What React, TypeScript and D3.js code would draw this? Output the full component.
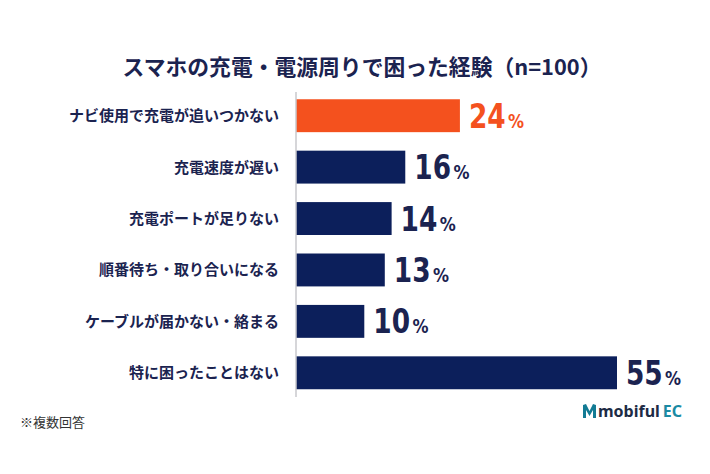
import { useEffect, useRef } from 'react';
import * as d3 from 'd3';

const categories = [
  'ナビ使用で充電が追いつかない',
  '充電速度が遅い',
  '充電ポートが足りない',
  '順番待ち・取り合いになる',
  'ケーブルが届かない・絡まる',
  '特に困ったことはない',
];
const values = [24, 16, 14, 13, 10, 55];
const highlight = [true, false, false, false, false, false];

const title = 'スマホの充電・電源周りで困った経験（n=100）';
const note = '※複数回答';

const ORANGE = '#f4511e';
const NAVY = '#0c1f5b';
const TEXT = '#1b2350';
const NUM_FONT = "'DejaVu Sans', sans-serif";
const JP_FONT = "'Noto Sans CJK JP', 'Noto Sans', sans-serif";

const App = () => {
  const svgRef = useRef<SVGSVGElement>(null);

  useEffect(() => {
    if (!svgRef.current) return;
    d3.select(svgRef.current).selectAll('*').remove();

    const width = 710;
    const height = 474;
    const axisX = 296;

    const svg = d3.select(svgRef.current)
      .attr('width', width)
      .attr('height', height);

    svg.append('rect').attr('width', width).attr('height', height).attr('fill', '#fff');

    // the long bar is cut off at the right edge, as in the original graphic
    const x = d3.scaleLinear().domain([0, 47]).range([axisX, axisX + 321]).clamp(true);
    const y = d3.scaleBand<string>()
      .domain(categories)
      .range([90, 398.5])
      .paddingInner(0.36)
      .paddingOuter(0.18);

    const data = categories.map((c, i) => ({ label: c, value: values[i], hi: highlight[i] }));

    // Title
    svg.append('text')
      .attr('x', 362)
      .attr('y', 75)
      .attr('text-anchor', 'middle')
      .attr('font-family', JP_FONT)
      .attr('font-weight', 700)
      .attr('font-size', 21.8)
      .attr('fill', TEXT)
      .text(title);

    // Bars
    svg.selectAll('.bar')
      .data(data)
      .enter()
      .append('rect')
      .attr('class', 'bar')
      .attr('x', axisX)
      .attr('y', d => y(d.label) || 0)
      .attr('width', d => x(d.value) - axisX)
      .attr('height', y.bandwidth())
      .attr('fill', d => (d.hi ? ORANGE : NAVY));

    // Axis line
    svg.append('line')
      .attr('x1', axisX)
      .attr('x2', axisX)
      .attr('y1', 92)
      .attr('y2', 397)
      .attr('stroke', '#c8c8cc')
      .attr('stroke-width', 1.5);

    // Category labels
    svg.selectAll('.cat')
      .data(data)
      .enter()
      .append('text')
      .attr('class', 'cat')
      .attr('x', 279)
      .attr('y', d => (y(d.label) || 0) + y.bandwidth() / 2 + 5.5)
      .attr('text-anchor', 'end')
      .attr('font-family', JP_FONT)
      .attr('font-weight', 700)
      .attr('font-size', 15)
      .attr('fill', TEXT)
      .text(d => d.label);

    // Value labels (narrowed to mimic the condensed numerals)
    const vals = svg.selectAll('.val')
      .data(data)
      .enter()
      .append('text')
      .attr('class', 'val')
      .attr('transform', d => `translate(${x(d.value) + 9},${(y(d.label) || 0) + y.bandwidth() / 2 + 12}) scale(0.8,1)`)
      .attr('font-family', NUM_FONT)
      .attr('font-weight', 700)
      .attr('fill', d => (d.hi ? ORANGE : TEXT));
    vals.append('tspan').attr('font-size', 33).text(d => d.value);
    vals.append('tspan').attr('font-size', 20).attr('dx', 3).text('%');

    // Footnote
    svg.append('text')
      .attr('x', 20)
      .attr('y', 427)
      .attr('font-family', JP_FONT)
      .attr('font-size', 13)
      .attr('fill', '#333')
      .text(note);

    // Logo
    const logo = svg.append('g').attr('transform', 'translate(583,404)');
    logo.append('path')
      .attr('d', 'M0,14 L0,1 L3,0 L6.5,7 L10,0 L13,1 L13,14 L10,14 L10,6 L6.5,12 L3,6 L3,14 Z')
      .attr('fill', '#137b94');
    logo.append('text')
      .attr('x', 15)
      .attr('y', 13)
      .attr('font-family', "'Noto Sans', sans-serif")
      .attr('font-weight', 700)
      .attr('font-size', 16)
      .attr('fill', '#1d2b45')
      .text('mobiful')
      .append('tspan')
      .attr('dx', 3)
      .attr('fill', '#1a8aa3')
      .text('EC');
  }, []);

  return <svg ref={svgRef} style={{ position: 'absolute', left: 0, top: 0, display: 'block' }} />;
};

export default App;
